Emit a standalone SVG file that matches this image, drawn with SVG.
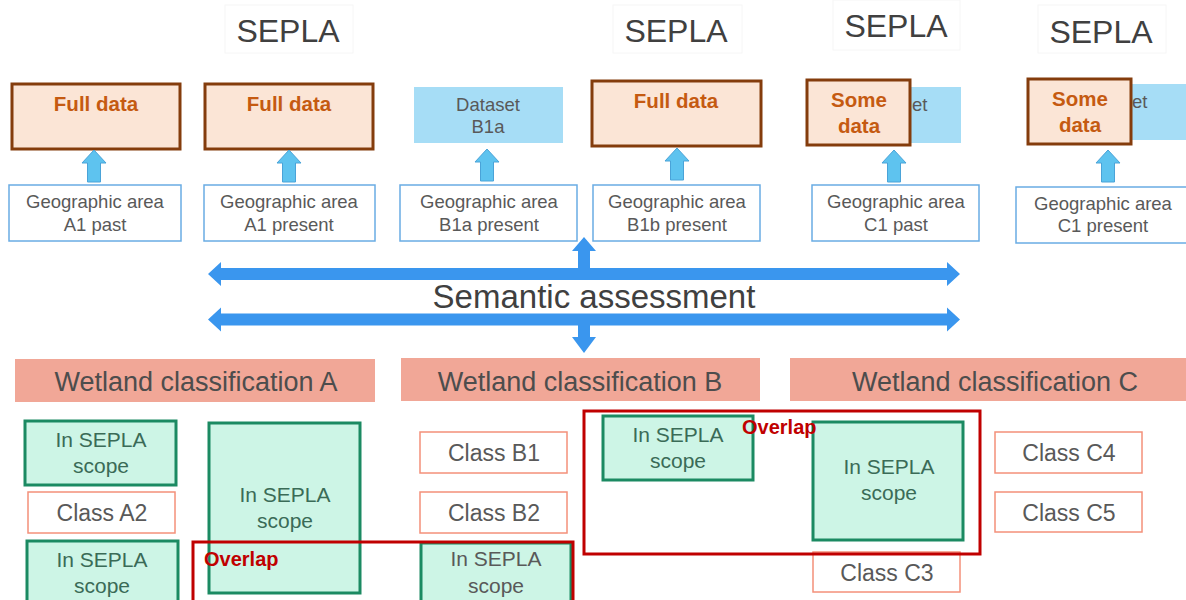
<svg xmlns="http://www.w3.org/2000/svg" width="1186" height="600" viewBox="0 0 1186 600">
<style>
text{font-family:"Liberation Sans",Arial,sans-serif;text-anchor:middle}
.sep{fill:#fff;stroke:#f6f6f6;stroke-width:1}
.sept{font-size:32px;fill:#404040}
.full{fill:#fbe5d6;stroke:#843c0c;stroke-width:3}
.fullt{font-size:20.5px;font-weight:bold;fill:#c55a11}
.geo{fill:#fff;stroke:#69ace4;stroke-width:1.5}
.geot{font-size:18.5px;fill:#595959}
.ds{fill:#a6ddf6}
.up{fill:#5ec3ef;stroke:#4aa3d8;stroke-width:1}
.big{fill:#3a96ee}
.wet{fill:#f1a797}
.wett{font-size:27px;fill:#4d4d4d}
.grn{fill:#cdf5e6;stroke:#1b8a62;stroke-width:3}
.grnt{font-size:21px;fill:#3a6b57}
.grnt2{font-size:21px;fill:#595959}
.cls{fill:#fff;stroke:#f4907a;stroke-width:1.5}
.clst{font-size:23px;fill:#595959}
.ov{fill:none;stroke:#c00000;stroke-width:3}
.ovt{font-size:20px;font-weight:bold;fill:#c00000;text-anchor:start}
</style>
<defs>
<path id="uparrow" d="M0,0 L12,13 L6.5,13 L6.5,32 L-6.5,32 L-6.5,13 L-12,13 Z"/>
</defs>

<g id="sepla1"><rect class="sep" x="225" y="5" width="128" height="48"/><text class="sept" x="288" y="42">SEPLA</text></g>
<g id="sepla2"><rect class="sep" x="613" y="5" width="129" height="48"/><text class="sept" x="676" y="42">SEPLA</text></g>
<g id="sepla3"><rect class="sep" x="833" y="0" width="127" height="50"/><text class="sept" x="896" y="37">SEPLA</text></g>
<g id="sepla4"><rect class="sep" x="1038" y="5" width="128" height="48"/><text class="sept" x="1101" y="43">SEPLA</text></g>

<g id="dataset-c1past"><rect class="ds" x="812" y="87" width="149" height="56"/><text class="geot" x="912" y="111" style="text-anchor:start">et</text></g>
<g id="dataset-c1present"><rect class="ds" x="1033" y="84" width="153" height="56"/><text class="geot" x="1132" y="108" style="text-anchor:start">et</text></g>

<g id="full1"><rect class="full" x="12" y="84" width="168" height="65"/><text class="fullt" x="96" y="111">Full data</text></g>
<g id="full2"><rect class="full" x="205" y="84" width="168" height="65"/><text class="fullt" x="289" y="111">Full data</text></g>
<g id="datasetB1a"><rect class="ds" x="414" y="87" width="149" height="56"/><text class="geot" x="488" y="111">Dataset</text><text class="geot" x="488" y="133">B1a</text></g>
<g id="full3"><rect class="full" x="592" y="81" width="169" height="65"/><text class="fullt" x="676" y="108">Full data</text></g>
<g id="some1"><rect class="full" x="807" y="80" width="103" height="65"/><text class="fullt" x="859" y="107">Some</text><text class="fullt" x="859" y="133">data</text></g>
<g id="some2"><rect class="full" x="1028" y="79" width="103" height="65"/><text class="fullt" x="1080" y="106">Some</text><text class="fullt" x="1080" y="132">data</text></g>

<g id="geo1"><rect class="geo" x="9" y="185" width="172" height="56"/><text class="geot" x="95" y="208">Geographic area</text><text class="geot" x="95" y="231">A1 past</text></g>
<g id="geo2"><rect class="geo" x="204" y="185" width="171" height="56"/><text class="geot" x="289" y="208">Geographic area</text><text class="geot" x="289" y="231">A1 present</text></g>
<g id="geo3"><rect class="geo" x="400" y="185" width="177" height="56"/><text class="geot" x="489" y="208">Geographic area</text><text class="geot" x="489" y="231">B1a present</text></g>
<g id="geo4"><rect class="geo" x="593" y="185" width="167" height="56"/><text class="geot" x="677" y="208">Geographic area</text><text class="geot" x="677" y="231">B1b present</text></g>
<g id="geo5"><rect class="geo" x="812" y="185" width="167" height="56"/><text class="geot" x="896" y="208">Geographic area</text><text class="geot" x="896" y="231">C1 past</text></g>
<g id="geo6"><rect class="geo" x="1016" y="187" width="174" height="56"/><text class="geot" x="1103" y="210">Geographic area</text><text class="geot" x="1103" y="232">C1 present</text></g>

<g id="connectors">
<use href="#uparrow" class="up" x="94" y="150"/>
<use href="#uparrow" class="up" x="289" y="150"/>
<use href="#uparrow" class="up" x="487" y="149"/>
<use href="#uparrow" class="up" x="677" y="148"/>
<use href="#uparrow" class="up" x="894" y="150"/>
<use href="#uparrow" class="up" x="1108" y="150"/>
<path class="big" d="M208,274 L221,262 L221,268 L578,268 L578,251 L572,251 L584,237 L596,251 L590,251 L590,268 L947,268 L947,262 L960,274 L947,286 L947,280 L221,280 L221,286 Z"/>
<path class="big" d="M208,319.5 L221,307.5 L221,313.5 L947,313.5 L947,307.5 L960,319.5 L947,331.5 L947,325.5 L590,325.5 L590,337 L596,337 L584,353 L572,337 L578,337 L578,325.5 L221,325.5 L221,331.5 Z"/>
</g>

<g id="semantic"><text x="594" y="308" style="font-size:33px;fill:#404040">Semantic assessment</text></g>

<g id="wetA"><rect class="wet" x="15" y="359" width="360" height="43"/><text class="wett" x="196" y="391">Wetland classification A</text></g>
<g id="wetB"><rect class="wet" x="401" y="358" width="359" height="43"/><text class="wett" x="580" y="391">Wetland classification B</text></g>
<g id="wetC"><rect class="wet" x="790" y="358" width="410" height="43"/><text class="wett" x="995" y="391">Wetland classification C</text></g>

<g id="a1"><rect class="grn" x="25" y="421" width="151" height="64"/><text class="grnt" x="101" y="447">In SEPLA</text><text class="grnt" x="101" y="473">scope</text></g>
<g id="a2"><rect class="cls" x="28" y="492" width="147" height="41"/><text class="clst" x="102" y="521">Class A2</text></g>
<g id="a3"><rect class="grn" x="27" y="541" width="151" height="70"/><text class="grnt" x="102" y="567">In SEPLA</text><text class="grnt" x="102" y="593">scope</text></g>
<g id="a4"><rect class="grn" x="209" y="423" width="151" height="170"/><text class="grnt" x="285" y="502">In SEPLA</text><text class="grnt" x="285" y="528">scope</text></g>

<g id="b1"><rect class="cls" x="420" y="432" width="147" height="41"/><text class="clst" x="494" y="461">Class B1</text></g>
<g id="b2"><rect class="cls" x="420" y="492" width="147" height="41"/><text class="clst" x="494" y="521">Class B2</text></g>
<g id="b3"><rect class="grn" x="421" y="543" width="150" height="70"/><text class="grnt2" x="496" y="566">In SEPLA</text><text class="grnt2" x="496" y="593">scope</text></g>
<g id="b4"><rect class="grn" x="603" y="416" width="150" height="64"/><text class="grnt" x="678" y="442">In SEPLA</text><text class="grnt" x="678" y="468">scope</text></g>

<g id="c1"><rect class="grn" x="813" y="422" width="150" height="118"/><text class="grnt" x="889" y="474">In SEPLA</text><text class="grnt" x="889" y="500">scope</text></g>
<g id="c3"><rect class="cls" x="813" y="552" width="147" height="40"/><text class="clst" x="887" y="581">Class C3</text></g>
<g id="c4"><rect class="cls" x="995" y="432" width="147" height="41"/><text class="clst" x="1069" y="461">Class C4</text></g>
<g id="c5"><rect class="cls" x="995" y="492" width="147" height="40"/><text class="clst" x="1069" y="521">Class C5</text></g>

<g id="overlap1"><rect class="ov" x="193" y="542" width="380" height="70"/><text class="ovt" x="204" y="566">Overlap</text></g>
<g id="overlap2"><rect class="ov" x="584" y="411" width="396" height="143"/><text class="ovt" x="742" y="434">Overlap</text></g>
</svg>
